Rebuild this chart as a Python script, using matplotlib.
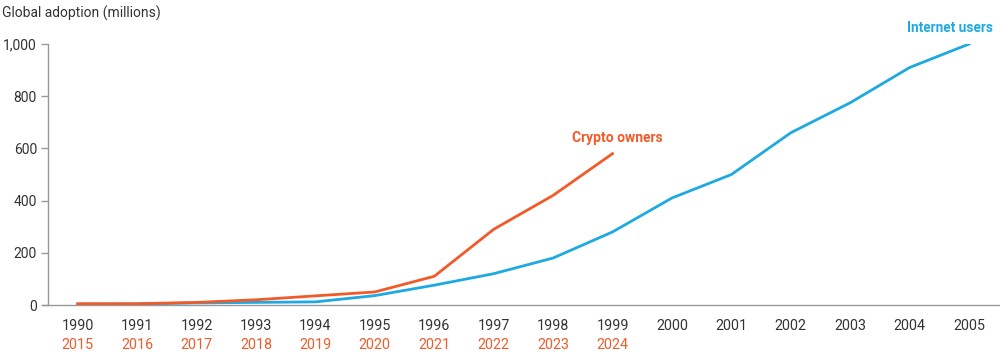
import matplotlib
matplotlib.use("Agg")
import matplotlib.pyplot as plt
from matplotlib.ticker import FuncFormatter

internet_years = list(range(1990, 2006))
internet_users = [3, 4, 8, 10, 12, 36, 76, 120, 180, 280, 410, 500, 660, 775, 910, 1000]
crypto_years = list(range(2015, 2025))
crypto_owners = [5, 5, 10, 20, 35, 50, 110, 290, 420, 580]

BLUE = "#1ea9e1"
ORANGE = "#f15a29"
TEXT = "#333333"
GRID = "#999999"

plt.rcParams['font.family'] = ['Roboto', 'DejaVu Sans']

fig = plt.figure(figsize=(10, 3.54), dpi=100)
ax = fig.add_axes([0.048, 0.1384, 0.952, 0.7373])

# crypto plotted on the internet-year axis (aligned by adoption year index)
crypto_x = [internet_years[i] for i in range(len(crypto_years))]
ax.plot(internet_years, internet_users, color=BLUE, lw=2.0, solid_joinstyle='miter', zorder=3)
ax.plot(crypto_x, crypto_owners, color=ORANGE, lw=2.0, solid_joinstyle='miter', zorder=4)

ax.set_xlim(1989.5, 2005.52)
ax.set_ylim(0, 1000)
ax.set_yticks([0, 200, 400, 600, 800, 1000])
ax.yaxis.set_major_formatter(FuncFormatter(lambda v, p: f"{int(v):,}"))
ax.set_xticks(internet_years)
ax.set_xticklabels([str(y) for y in internet_years])

for s in ["top", "right"]:
    ax.spines[s].set_visible(False)
ax.spines["left"].set_color(GRID)
ax.spines["bottom"].set_color(GRID)
ax.spines["left"].set_linewidth(1.0)
ax.spines["bottom"].set_linewidth(1.0)
ax.tick_params(axis='y', length=5, color=GRID, width=1.0, labelsize=10, labelcolor=TEXT, pad=3)
ax.tick_params(axis='x', length=0, labelsize=10.3, labelcolor=TEXT, pad=10)
ax.spines["bottom"].set_bounds(1989.42, 2005.52)

# second row of x labels (crypto years)
for x, y in zip(crypto_x, crypto_years):
    ax.text(x, -0.155, str(y), transform=ax.get_xaxis_transform(), ha='center', va='center',
            color=ORANGE, fontsize=10.3, clip_on=False)

fig.text(0.002, 0.963, "Global adoption (millions)", ha='left', va='center', fontsize=10, color=TEXT)

ax.text(1999.08, 640, "Crypto owners", ha='center', va='center', fontsize=10, color=ORANGE,
        fontweight='bold', family=['Liberation Sans Narrow', 'Roboto', 'DejaVu Sans'])
ax.text(2005.4, 1060, "Internet users", ha='right', va='center', fontsize=9.8, color=BLUE,
        fontweight='bold', family=['Liberation Sans Narrow', 'Roboto', 'DejaVu Sans'], clip_on=False)

fig.savefig("out.png", dpi=100)
